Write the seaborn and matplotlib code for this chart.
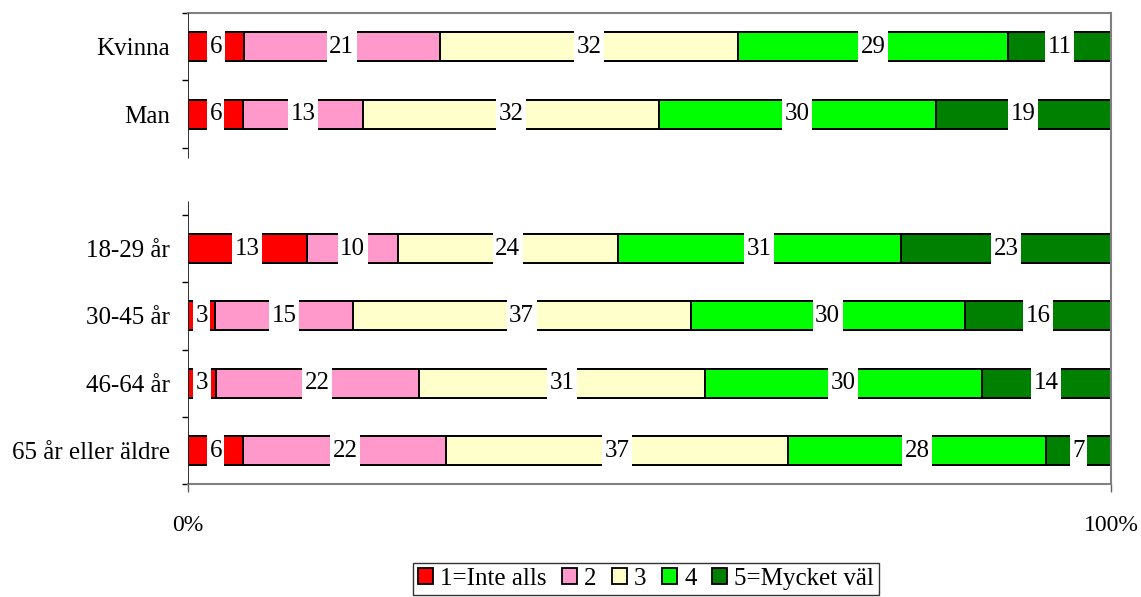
import matplotlib
matplotlib.use("Agg")
import numpy as np
import pandas as pd
import matplotlib.pyplot as plt
import seaborn as sns
from matplotlib.patches import Patch
from matplotlib.ticker import FixedLocator

# survey answers in percent, one list per answer level
groups = ["Kvinna", "Man", "18-29 år", "30-45 år", "46-64 år", "65 år eller äldre"]
levels = ["1=Inte alls", "2", "3", "4", "5=Mycket väl"]
level_1 = [6, 6, 13, 3, 3, 6]
level_2 = [21, 13, 10, 15, 22, 22]
level_3 = [32, 32, 24, 37, 31, 37]
level_4 = [29, 30, 31, 30, 30, 28]
level_5 = [11, 19, 23, 16, 14, 7]
colors = ["#FF0000", "#FF99CC", "#FFFFCC", "#00FF00", "#008000"]

# blank slot between the gender and age groups
order = groups[:2] + [" "] + groups[2:]

values = np.array([level_1, level_2, level_3, level_4, level_5]).T
share = values / values.sum(axis=1, keepdims=True)
cum = share.cumsum(axis=1)
df = pd.DataFrame(cum, columns=levels)
df["group"] = groups

sns.set_theme(style="white")
plt.rcParams["font.family"] = ["Liberation Serif", "DejaVu Serif"]
plt.rcParams["text.color"] = "black"
plt.rcParams["xtick.color"] = "black"
plt.rcParams["ytick.color"] = "black"
plt.rcParams["xtick.labelcolor"] = "black"
plt.rcParams["ytick.labelcolor"] = "black"

fs = 18

fig = plt.figure(figsize=(11.41, 5.97), dpi=100)
ax = fig.add_axes([0.1648, 0.189, 0.9737 - 0.1648, 0.978 - 0.189])

# stacked bars: draw cumulative totals from the top level down
for i in range(len(levels) - 1, -1, -1):
    sns.barplot(data=df, x=levels[i], y="group", order=order, orient="h",
                color=colors[i], saturation=1, width=0.43, errorbar=None,
                edgecolor="black", linewidth=1.4, ax=ax)

# value labels in the middle of each segment, white box cuts through the bar
for r, g in enumerate(groups):
    ypos = order.index(g)
    for i in range(len(levels)):
        center = cum[r, i] - share[r, i] / 2
        ax.text(center, ypos, str(values[r, i]), ha="center", va="center",
                fontsize=fs, color="black", zorder=5,
                bbox=dict(boxstyle="square,pad=0.1", mutation_aspect=3.2,
                          fc="white", ec="none"))

ax.set_xlim(0, 1)
ax.set_ylim(len(order) - 0.5, -0.5)
ax.set_xlabel("")
ax.set_ylabel("")
ax.set_xticks([0, 1])
ax.set_xticklabels(["0%", "100%"], fontsize=17)
ax.tick_params(axis="x", bottom=True, length=6, width=1, color="#606060", pad=16)
ax.tick_params(axis="y", which="major", length=0, pad=13, labelsize=fs)
ax.yaxis.set_minor_locator(FixedLocator(np.arange(-0.5, len(order), 1)))
ax.tick_params(axis="y", which="minor", left=True, length=4.5, width=1, color="black")

for side in ["top", "right", "bottom"]:
    ax.spines[side].set_visible(True)
    ax.spines[side].set_color("#808080")
    ax.spines[side].set_linewidth(1.5)
ax.spines["left"].set_visible(False)
# left axis line is broken around the blank slot
ax.axvline(0, ymin=0.692, ymax=1, color="#222222", lw=1.3, zorder=6)
ax.axvline(0, ymin=0, ymax=0.599, color="#222222", lw=1.3, zorder=6)

handles = [Patch(facecolor=c, edgecolor="black", linewidth=1.3) for c in colors]
leg = fig.legend(handles, levels, loc="lower center", bbox_to_anchor=(0.566, -0.018),
                 ncol=5, frameon=True, fancybox=False, edgecolor="black", fontsize=fs,
                 handlelength=0.6, handleheight=0.6, handletextpad=0.3,
                 columnspacing=0.6, borderpad=0.2)
leg.get_frame().set_linewidth(1.0)

fig.savefig("out.png", dpi=100)
